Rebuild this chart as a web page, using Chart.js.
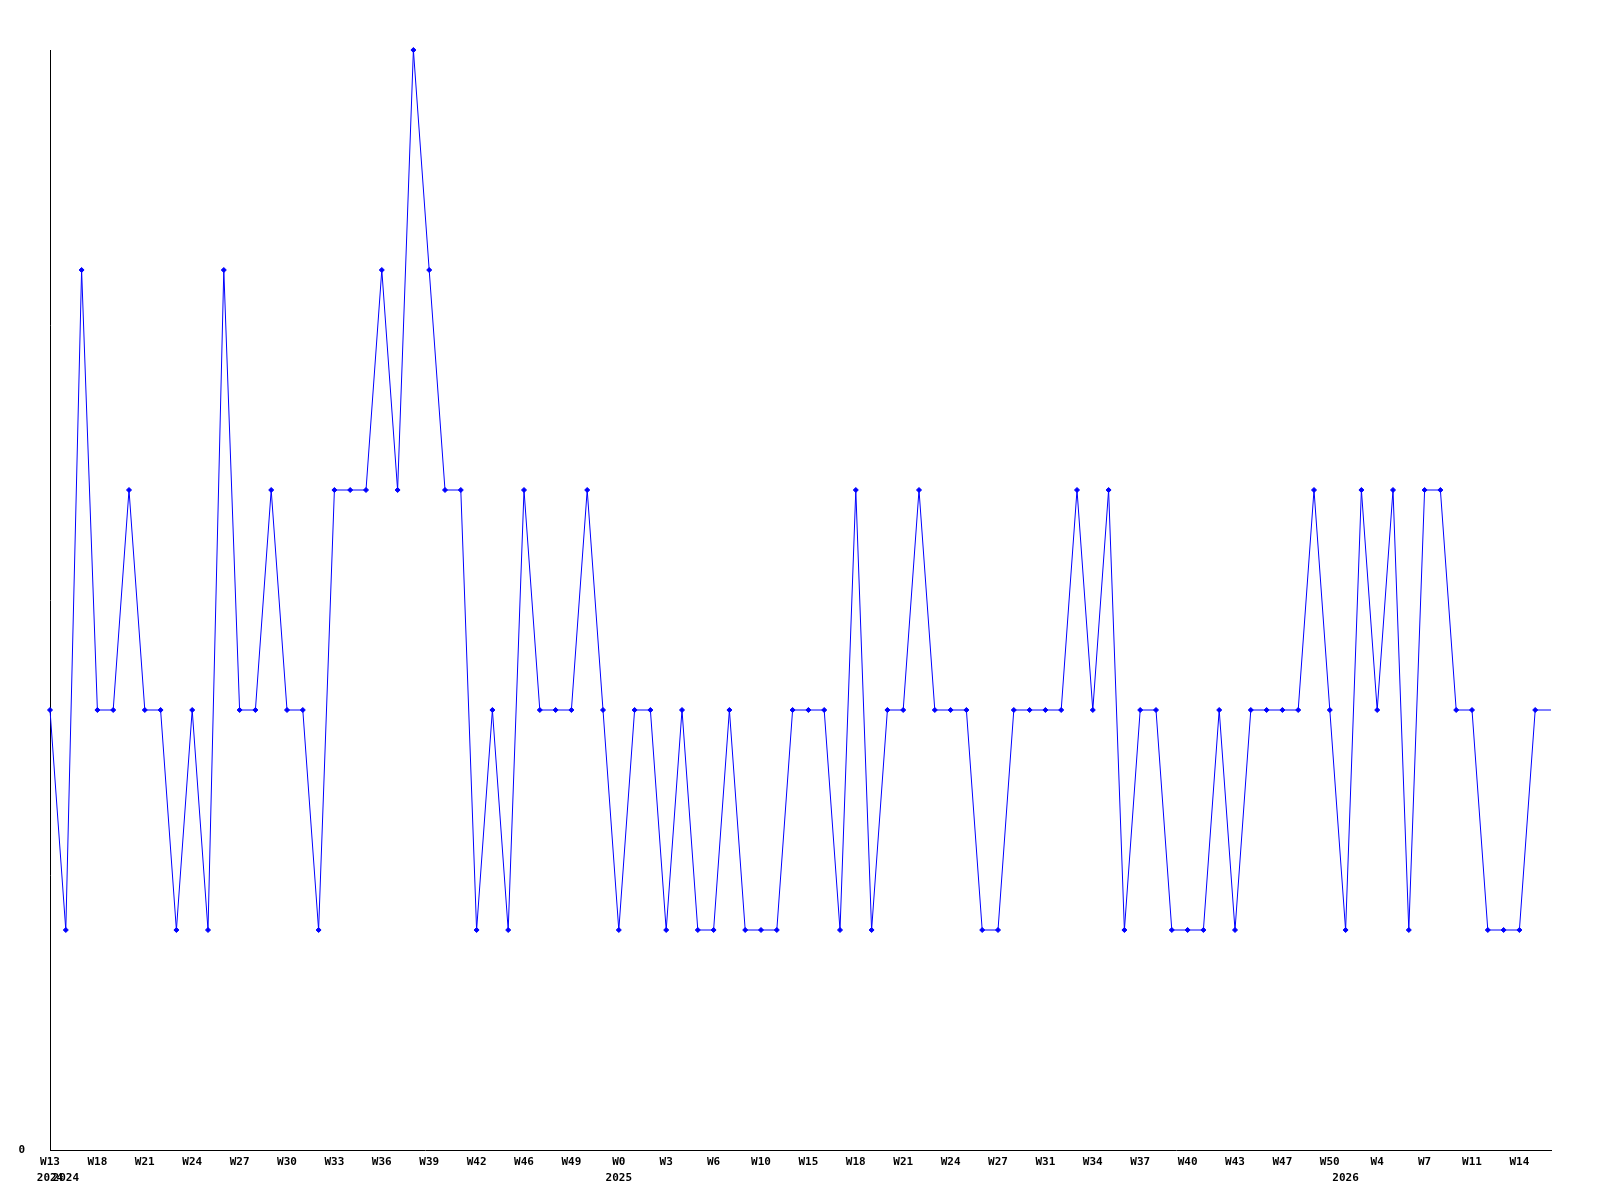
<!DOCTYPE html>
<html>
<head>
<meta charset="utf-8">
<script src="https://cdn.jsdelivr.net/npm/chart.js@4/dist/chart.umd.min.js"></script>
<style>
  body { margin: 0; background: #fff; }
  #box { width: 1600px; height: 1200px; }
</style>
</head>
<body>
<div id="box"><canvas id="grafico" width="1600" height="1200"></canvas></div>
<script>
// weekly values, one per point (last point has no marker)
const valores = [2,1,4,2,2,3,2,2,1,2,
  1,4,2,2,3,2,2,1,3,3,
  3,4,3,5,4,3,3,1,2,1,
  3,2,2,2,3,2,1,2,2,1,
  2,1,1,2,1,1,1,2,2,2,
  1,3,1,2,2,3,2,2,2,1,
  1,2,2,2,2,3,2,3,1,2,
  2,1,1,1,2,1,2,2,2,2,
  3,2,1,3,2,3,1,3,3,2,
  2,1,1,1,2,2];

// x tick labels (every 3rd point)
const semanaPos = [0,3,6,9,12,15,18,21,24,27,30,33,36,39,42,45,48,51,54,57,60,63,66,69,72,75,78,81,84,87,90,93];
const semanaTxt = ["W13","W18","W21","W24","W27","W30","W33","W36","W39","W42","W46","W49","W0","W3","W6","W10",
  "W15","W18","W21","W24","W27","W31","W34","W37","W40","W43","W47","W50","W4","W7","W11","W14"];
const anioPos = [0,1,36,82];
const anioTxt = ["2024","2024","2025","2026"];

const etiquetas = valores.map((v, i) => i);
const radios = valores.map((v, i) => i == valores.length - 1 ? 0 : 2.5);

function etiquetaX(i){
    let sem = "";
    let an = "";
    let k = semanaPos.indexOf(i);
    if(k >= 0) sem = semanaTxt[k];
    let j = anioPos.indexOf(i);
    if(j >= 0) an = anioTxt[j];
    if(sem == "" && an == "") return "";
    return [sem, an];
}

const fuente = { family: "'DejaVu Sans Mono', monospace", size: 11, weight: "bold", lineHeight: "16px" };

const ctx = document.getElementById('grafico').getContext('2d');
const myChart = new Chart(ctx, {
    type: 'line',
    data: {
        labels: etiquetas,
        datasets: [{
            data: valores,
            borderColor: 'rgb(0, 0, 255)',
            backgroundColor: 'rgb(0, 0, 255)',
            borderWidth: 1,
            pointStyle: 'rectRot',
            pointRadius: radios,
            pointBorderWidth: 1,
            tension: 0,
            fill: false,
            clip: false
        }]
    },
    options: {
        responsive: false,
        animation: false,
        devicePixelRatio: 1,
        layout: { padding: { left: 0, top: 50, right: 49, bottom: 0 } },
        plugins: {
            legend: { display: false },
            tooltip: { enabled: false },
            title: { display: false }
        },
        scales: {
            x: {
                offset: false,
                grid: { display: false, drawTicks: false },
                border: { display: true, color: '#000', width: 1 },
                afterFit: (s) => { s.height = 50; },
                ticks: {
                    autoSkip: false,
                    maxRotation: 0,
                    minRotation: 0,
                    padding: 4,
                    color: '#000',
                    font: fuente,
                    callback: function(v, i){ return etiquetaX(i); }
                }
            },
            y: {
                min: 0,
                max: 5,
                grid: { display: false, drawTicks: false },
                border: { display: true, color: '#000', width: 1 },
                afterFit: (s) => { s.width = 50; },
                ticks: {
                    stepSize: 1,
                    padding: 25,
                    color: '#000',
                    font: fuente,
                    callback: function(v){ return v == 0 ? "0" : ""; }
                }
            }
        }
    }
});
</script>
</body>
</html>
